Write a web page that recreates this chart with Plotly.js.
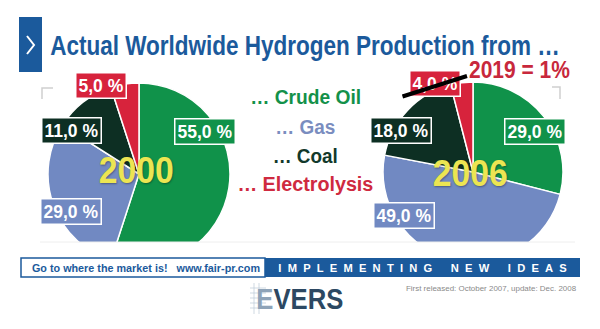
<!DOCTYPE html>
<html>
<head>
<meta charset="utf-8">
<script src="https://cdn.plot.ly/plotly-3.0.1.min.js"></script>
<style>html,body{margin:0;padding:0;background:#fff;}#chart{width:600px;height:329px;}</style>
</head>
<body>
<div id="chart"></div>
<script>
// ---- data ----
const categories = ['Crude Oil', 'Gas', 'Coal', 'Electrolysis'];
const years = ['2000', '2006'];
const share2000 = [55, 29, 11, 5];
const share2006 = [29, 49, 18, 4];
const note2019 = '2019 = 1%';
const titleText = 'Actual Worldwide Hydrogen Production from …';
const bannerLeft = 'Go to where the market is!\u00A0\u00A0\u00A0www.fair-pr.com';
const bannerRight = 'IMPLEMENTING NEW IDEAS';
const footnote = 'First released: October 2007, update: Dec. 2008';
const logoText = 'EVERS';

// ---- styling ----
const W = 600, H = 329;
const sliceColors = ['#10924a', '#7189c2', '#0d2f23', '#d7233c'];
const legendColors = ['#13914a', '#7a8dbf', '#12392b', '#cf2a40'];
const blue = '#1b5a9c';
const FONT = '"Liberation Sans", Arial, Roboto, sans-serif';
const px = x => x / W;
const py = y => 1 - y / H;

function fmt(v) { return v.toFixed(1).replace('.', ',') + '\u00A0%'; }

// pies
const pieL = {x0: 48, x1: 230, y0: 83, y1: 265};
const pieR = {x0: 383, x1: 563, y0: 82, y1: 262};
function pie(vals, box) {
  return {
    type: 'pie', values: vals, labels: categories, sort: false,
    direction: 'clockwise', rotation: 0,
    marker: {colors: sliceColors, line: {color: '#ffffff', width: 1.5}},
    textinfo: 'none', hoverinfo: 'none', showlegend: false,
    domain: {x: [px(box.x0), px(box.x1)], y: [py(box.y1), py(box.y0)]}
  };
}
const data = [pie(share2000, pieL), pie(share2006, pieR)];

// label box centres (px)
const labPosL = [[205, 131], [71, 211], [71, 130], [101, 85]];
const labPosR = [[535, 131], [404, 215], [401, 130], [435, 83]];

const ann = [];
const condense = {};   // annotation index -> {w: target width px, anchor}
function A(o, cw) {
  const a = Object.assign({xref: 'paper', yref: 'paper', showarrow: false, xanchor: 'center', yanchor: 'middle'}, o);
  if (cw) condense[ann.length] = {w: cw, anchor: a.xanchor};
  ann.push(a);
}

// title
A({x: px(48), y: py(45), xanchor: 'left', text: '<b>' + titleText + '</b>',
   font: {family: FONT, size: 28, color: blue}}, 510);

// value labels
function labels(vals, pos) {
  vals.forEach((v, i) => {
    A({x: px(pos[i][0]), y: py(pos[i][1]),
       text: '<b>' + fmt(v) + '</b>', bgcolor: sliceColors[i], bordercolor: '#ffffff',
       borderwidth: 1.5, borderpad: 2, font: {family: FONT, size: 17.5, color: '#ffffff'}});
  });
}
labels(share2000, labPosL);
labels(share2006, labPosR);

// years
const yearFont = {family: FONT, size: 37, color: '#ece552', shadow: '1px 1px 2px rgba(0,0,0,0.35)'};
A({x: px(136), y: py(170), text: '<b>' + years[0] + '</b>', font: yearFont}, 75);
A({x: px(470), y: py(173), text: '<b>' + years[1] + '</b>', font: yearFont}, 75);

// legend text in the middle
const legY = [96, 127, 155, 183];
const legW = [111, 60, 65, 136];
categories.forEach((c, i) => {
  A({x: px(305), y: py(legY[i]), text: '<b>… ' + c + '</b>',
     font: {family: FONT, size: 21, color: legendColors[i]}}, legW[i]);
});

// 2019 note + strike-through line
A({x: px(467), y: py(70), xanchor: 'left', text: '<b>' + note2019 + '</b>',
   font: {family: FONT, size: 24, color: '#c8283c'}}, 101);
A({x: px(467), y: py(76), text: '', showarrow: true, ax: -66, ay: 21, arrowhead: 0,
   arrowwidth: 4, arrowcolor: '#000000', standoff: 0, startstandoff: 0, font: {size: 1}});

// banner texts
A({x: px(30), y: py(267.5), xanchor: 'left', text: '<b>' + bannerLeft + '</b>',
   font: {family: FONT, size: 11.7, color: blue}}, 228);
const spaced = bannerRight.split(' ').map(w => w.split('').join('\u00A0\u00A0')).join('\u00A0\u00A0\u00A0\u00A0\u00A0\u00A0');
A({x: px(422.5), y: py(267.5), text: '<b>' + spaced + '</b>', font: {family: FONT, size: 11.5, color: '#ffffff'}}, 289);
A({x: px(579), y: py(288), xanchor: 'right', text: footnote,
   font: {family: FONT, size: 8, color: '#8a8a8a'}}, 171);
// logo
A({x: px(300), y: py(298), text: '<b><span style="color:#8ea3b8">' + logoText[0] + '</span>' + logoText.slice(1) + '</b>',
   font: {family: FONT, size: 30, color: '#2c4862'}}, 87);

// shapes
const shapes = [];
function R(x0, y0, x1, y1, fill, line) {
  shapes.push({type: 'rect', xref: 'paper', yref: 'paper', layer: 'above',
    x0: px(x0), x1: px(x1), y0: py(y1), y1: py(y0), fillcolor: fill,
    line: line || {width: 0}});
}
function Pth(d, color, w) {
  shapes.push({type: 'path', xref: 'paper', yref: 'paper', layer: 'above',
    path: d.replace(/(-?\d+\.?\d*) (-?\d+\.?\d*)/g, (m, a, b) => px(+a) + ',' + py(+b)),
    line: {color: color, width: w}});
}
// cover bottom of pies
R(0, 242, 600, 329, '#ffffff');
// faint baseline
Pth('M 40 242 L 575 242', '#eeeeee', 1);
// title marker
R(19, 17, 42, 72, blue);
Pth('M 27 36 L 34 45 L 27 54', '#ffffff', 2);
// corner marks
Pth('M 53 88 L 42 88 L 42 99', '#cfcfcf', 1.5);
Pth('M 552 87 L 560 87 L 560 99', '#cfcfcf', 1.5);
// banner
R(21, 258, 265, 277, '#ffffff', {color: blue, width: 1.5});
R(265, 258, 580, 277, blue);
// logo hatch lines
Pth('M 250 288 L 266 288 M 250 293 L 266 293 M 250 298 L 266 298 M 250 303 L 266 303 M 250 308 L 266 308', '#c3cfdb', 0.8);
Pth('M 254 283 L 254 314 M 259 283 L 259 314', '#c3cfdb', 0.8);

const layout = {
  width: W, height: H, margin: {l: 0, r: 0, t: 0, b: 0},
  paper_bgcolor: '#ffffff', plot_bgcolor: '#ffffff',
  showlegend: false, annotations: ann, shapes: shapes
};
Plotly.newPlot('chart', data, layout, {staticPlot: true}).then(gd => {
  gd.querySelectorAll('.annotation').forEach(g => {
    const i = +g.getAttribute('data-index');
    const c = condense[i];
    if (!c) return;
    const t = g.querySelector('.annotation-text');
    if (!t) return;
    const bb = t.getBBox();
    if (!bb.width) return;
    const s = c.w / bb.width;
    const cx = c.anchor === 'left' ? bb.x : c.anchor === 'right' ? bb.x + bb.width : bb.x + bb.width / 2;
    t.setAttribute('transform', 'translate(' + cx + ',0) scale(' + s + ',1) translate(' + (-cx) + ',0)');
  });
});
</script>
</body>
</html>
